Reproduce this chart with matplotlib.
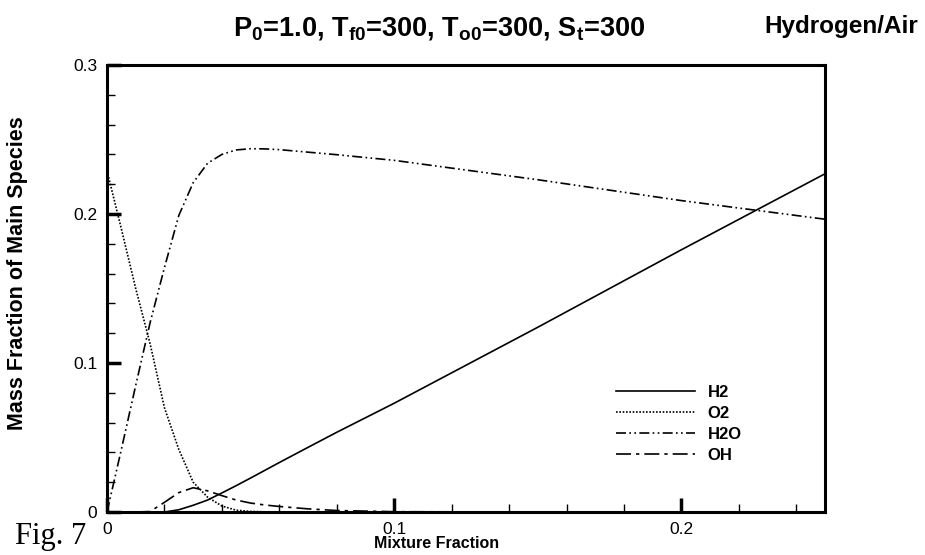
import numpy as np
import matplotlib
matplotlib.use("Agg")
import matplotlib.pyplot as plt
import matplotlib.ticker as mticker

plt.rcParams["font.family"] = ["Liberation Sans", "DejaVu Sans"]
plt.rcParams["mathtext.fontset"] = "custom"
plt.rcParams["mathtext.rm"] = "Liberation Sans:bold"
plt.rcParams["mathtext.it"] = "Liberation Sans:bold"
plt.rcParams["mathtext.bf"] = "Liberation Sans:bold"
plt.rcParams["mathtext.default"] = "regular"

# mixture fraction grid
z = [0.0, 0.005, 0.01, 0.015, 0.02, 0.025, 0.03, 0.035, 0.04, 0.045,
     0.05, 0.055, 0.06, 0.07, 0.08, 0.1, 0.15, 0.2, 0.25]

# mass fractions of main species
h2 = [0.0, 0.0, 0.0, 0.0, 0.0, 0.0015, 0.0045, 0.008, 0.0128, 0.0177,
      0.0228, 0.028, 0.0332, 0.0434, 0.0535, 0.073, 0.124, 0.176, 0.227]
o2 = [0.229, 0.190, 0.150, 0.113, 0.070, 0.042, 0.020, 0.010, 0.004, 0.0012,
      0.0004, 0.0001, 0.0, 0.0, 0.0, 0.0, 0.0, 0.0, 0.0]
h2o = [0.0, 0.042, 0.085, 0.127, 0.164, 0.199, 0.221, 0.234, 0.240, 0.243,
       0.2438, 0.2437, 0.2432, 0.2415, 0.2398, 0.236, 0.223, 0.209, 0.1965]
oh = [0.0, 0.0, 0.0, 0.0003, 0.0065, 0.013, 0.0163, 0.0142, 0.011, 0.0080,
      0.0060, 0.0047, 0.0037, 0.0021, 0.0010, 0.0002, 0.0, 0.0, 0.0]

species = ["H2", "O2", "H2O", "OH"]
styles = ["-", (0, (1, 1)), (0, (6, 2, 1, 2, 1, 2)), (0, (9, 3, 2, 3))]

fig = plt.figure(figsize=(9.25, 5.55), dpi=100)
ax = fig.add_axes([107 / 925, 1 - 512 / 555, 718 / 925, 447 / 555])

for name, data, ls in zip(species, [h2, o2, h2o, oh], styles):
    ax.plot(z, data, color="black", linestyle=ls, linewidth=1.2, label=name)

ax.set_xlim(0, 0.25)
ax.set_ylim(0, 0.3)
ax.xaxis.set_major_locator(mticker.FixedLocator([0, 0.1, 0.2]))
ax.xaxis.set_minor_locator(mticker.MultipleLocator(0.02))
ax.yaxis.set_major_locator(mticker.FixedLocator([0, 0.1, 0.2, 0.3]))
ax.yaxis.set_minor_locator(mticker.MultipleLocator(0.02))
ax.xaxis.set_major_formatter(mticker.FixedFormatter(["0", "0.1", "0.2"]))
ax.yaxis.set_major_formatter(mticker.FixedFormatter(["0", "0.1", "0.2", "0.3"]))
ax.tick_params(which="major", direction="in", length=10, width=2.5, labelsize=12.5, pad=7)
ax.tick_params(which="minor", direction="in", length=6, width=1)
for sp in ax.spines.values():
    sp.set_linewidth(2.2)

fig.text(18 / 925, 1 - 273 / 555, "Mass Fraction of Main Species", rotation=90,
         ha="center", va="center", fontsize=15.5, fontweight="bold")
fig.text(437 / 925, 1 - 543 / 555, "Mixture Fraction", ha="center", va="center",
         fontsize=11.5, fontweight="bold")

fig.text(439 / 925, 1 - 28 / 555,
         r"P$_0$=1.0, T$_{f0}$=300, T$_{o0}$=300, S$_t$=300",
         ha="center", va="center", fontsize=19.5, fontweight="bold")
fig.text(841 / 925, 1 - 26 / 555, "Hydrogen/Air", ha="center", va="center",
         fontsize=17.5, fontweight="bold")
fig.text(15 / 925, 1 - 544 / 555, "Fig. 7", ha="left", va="baseline",
         fontsize=22, family="Liberation Serif")

ax.legend(loc="upper left", bbox_to_anchor=(616 / 925, 1 - 385 / 555),
          bbox_transform=fig.transFigure, frameon=False, borderpad=0,
          borderaxespad=0, handlelength=4.75, handletextpad=0.75, labelspacing=0.36,
          prop={"size": 12, "weight": "bold"})

fig.savefig("out.png", dpi=100)
